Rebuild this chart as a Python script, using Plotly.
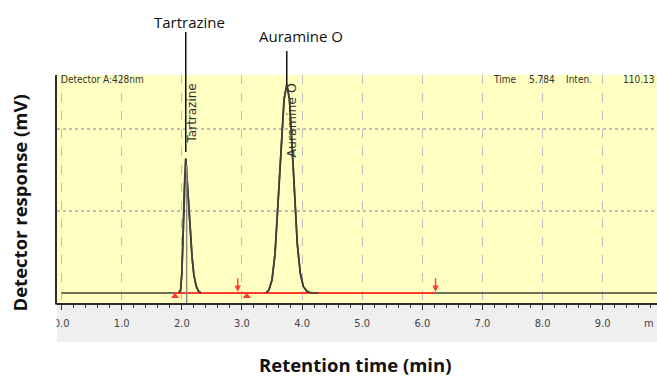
import plotly.graph_objects as go

# ---------------- data ----------------
time_min = [0.00, 1.95, 1.98, 2.00, 2.02, 2.04, 2.065, 2.09, 2.12, 2.14, 2.17, 2.20, 2.24, 2.28, 2.32,
            3.40, 3.45, 3.50, 3.55, 3.60, 3.65, 3.70, 3.745, 3.79, 3.83, 3.87, 3.92, 3.97, 4.02, 4.08,
            4.15, 4.27, 9.95]
response_mV = [0, 0, 2, 12, 35, 64, 82, 68, 48, 38, 22, 11, 4, 1, 0,
               0, 2, 8, 24, 55, 90, 118, 127, 118, 92, 60, 30, 12, 4, 1,
               0, 0, 0]

peak_names = ["Tartrazine", "Auramine O"]
peak_times = [2.065, 3.745]
peak_windows = [(1.95, 2.32), (3.40, 4.27)]

baseline_times = [1.88, 6.22]          # red integration baseline
baseline_start_marks = [1.887, 3.08]   # red up-triangles
baseline_end_marks = [2.93, 6.22]      # red down-arrows
cursor_time = [2.08]

x_tick_vals = [0, 1, 2, 3, 4, 5, 6, 7, 8, 9]
x_tick_text = ["0.0", "1.0", "2.0", "3.0", "4.0", "5.0", "6.0", "7.0", "8.0", "9.0"]
y_grid_vals = [50, 100]

# ---------------- layout helpers ----------------
OFF = 0   # body margin removed in the page (see post_script)
W, H = 657 - OFF, 376 - OFF
L, R, T, B = 57 - OFF, 0, 75 - OFF, 73
PW, PH = W - L - R, H - T - B


def px_x(px):  # window pixel -> paper fraction
    return (px - OFF - L) / PW


def px_y(py):
    return (H - B - (py - OFF)) / PH


NARROW = "Liberation Sans Narrow, DejaVu Sans Condensed, Arial Narrow, sans-serif"
TRACE_COL = "#404035"
RED = "#ff3a2a"

fig = go.Figure()

fig.add_trace(go.Scatter(x=time_min, y=response_mV, mode="lines",
                         line=dict(color=TRACE_COL, width=1.7), hoverinfo="skip"))
fig.add_trace(go.Scatter(x=baseline_times, y=[0, 0], mode="lines",
                         line=dict(color=RED, width=2), hoverinfo="skip"))
for lo, hi in peak_windows:
    xs = [t for t in time_min if lo <= t <= hi]
    ys = [v for t, v in zip(time_min, response_mV) if lo <= t <= hi]
    fig.add_trace(go.Scatter(x=xs, y=ys, mode="lines",
                             line=dict(color=TRACE_COL, width=1.7), hoverinfo="skip"))
fig.add_trace(go.Scatter(x=baseline_start_marks, y=[-2.0] * len(baseline_start_marks), mode="markers",
                         marker=dict(symbol="triangle-up", size=7, color=RED), hoverinfo="skip"))

fig.update_layout(
    width=W, height=H,
    margin=dict(l=L, r=R, t=T, b=B),
    paper_bgcolor="white",
    plot_bgcolor="#ffffc2",
    showlegend=False,
    hovermode=False,
    xaxis=dict(range=[-0.0765, 9.903], tickvals=x_tick_vals, ticktext=x_tick_text,
               showline=True, linecolor="#2b2b2b", linewidth=2,
               ticks="outside", ticklen=5, tickcolor="#333", tickwidth=1,
               minor=dict(dtick=0.2, ticks="outside", ticklen=3, tickcolor="#333", showgrid=False),
               showgrid=True, gridcolor="#bdbdbd", griddash="dash", gridwidth=1,
               zeroline=False, ticklabelstandoff=4,
               tickfont=dict(family=NARROW, size=11, color="#444")),
    yaxis=dict(range=[-6.1, 132.9], tickvals=y_grid_vals, showticklabels=False, ticks="",
               showline=True, linecolor="#2b2b2b", linewidth=2,
               showgrid=True, gridcolor="#bdbdbd", griddash="dot", gridwidth=1.5,
               zeroline=False),
)

shapes = []
shapes.append(dict(type="rect", xref="paper", yref="paper", x0=0, x1=1, y0=px_y(342), y1=0,
                   fillcolor="#efefef", line=dict(width=0), layer="below"))
shapes.append(dict(type="rect", xref="paper", yref="paper", x0=px_x(0), x1=px_x(56.5), y0=px_y(350),
                   y1=px_y(304.5), fillcolor="white", line=dict(width=0), layer="above"))
shapes.append(dict(type="line", xref="x", yref="y", x0=cursor_time[0], x1=cursor_time[0],
                   y0=-6.1, y1=78, line=dict(color="#8a8a8a", width=1.5), layer="above"))
leader_tops = [32, 51]
leader_bottoms = [152, 85]
for t, top, bot in zip(peak_times, leader_tops, leader_bottoms):
    shapes.append(dict(type="line", xref="x", yref="paper", x0=t, x1=t,
                       y0=px_y(bot), y1=px_y(top), line=dict(color="#111", width=1.5), layer="above"))
fig.update_layout(shapes=shapes)

ann = []
for t in baseline_end_marks:
    ann.append(dict(x=t, y=0.8, xref="x", yref="y", text="", showarrow=True, arrowhead=2,
                    arrowsize=0.9, arrowwidth=1.4, arrowcolor=RED, ax=0, ay=-15))
ann.append(dict(x=px_x(189.5), y=px_y(22), xref="paper", yref="paper", text=peak_names[0],
                showarrow=False, font=dict(family="Open Sans, sans-serif", size=15, color="#111"),
                xanchor="center", yanchor="middle"))
ann.append(dict(x=px_x(300.5), y=px_y(36), xref="paper", yref="paper", text=peak_names[1],
                showarrow=False, font=dict(family="Open Sans, sans-serif", size=15, color="#111"),
                xanchor="center", yanchor="middle"))
ann.append(dict(x=px_x(191.5), y=px_y(114), xref="paper", yref="paper", text=peak_names[0],
                textangle=-90, showarrow=False, font=dict(family="DejaVu Sans, sans-serif", size=12, color="#333"),
                xanchor="center", yanchor="middle"))
ann.append(dict(x=px_x(291.5), y=px_y(120), xref="paper", yref="paper", text=peak_names[1],
                textangle=-90, showarrow=False, font=dict(family="DejaVu Sans, sans-serif", size=12.5, color="#333"),
                xanchor="center", yanchor="middle"))
hdr = dict(xref="paper", yref="paper", showarrow=False, yanchor="middle",
           font=dict(family=NARROW, size=10, color="#333"))
ann.append(dict(hdr, x=px_x(59), y=px_y(80), text="Detector A:428nm", xanchor="left"))
ann.append(dict(hdr, x=px_x(491), y=px_y(80), text="Time", xanchor="left"))
ann.append(dict(hdr, x=px_x(527), y=px_y(80), text="5.784", xanchor="left"))
ann.append(dict(hdr, x=px_x(564), y=px_y(80), text="Inten.", xanchor="left"))
ann.append(dict(hdr, x=px_x(656), y=px_y(80), text="110.13", xanchor="right"))
ann.append(dict(x=px_x(656), y=px_y(323), xref="paper", yref="paper", text="m", showarrow=False,
                xanchor="right", yanchor="middle", font=dict(family=NARROW, size=11, color="#444")))
ann.append(dict(x=px_x(355), y=px_y(364), xref="paper", yref="paper", text="<b>Retention time (min)</b>",
                showarrow=False, xanchor="center", yanchor="middle",
                font=dict(family="Open Sans, sans-serif", size=18.5, color="#111")))
ann.append(dict(x=px_x(18.5), y=px_y(203), xref="paper", yref="paper", text="<b>Detector response (mV)</b>",
                textangle=-90, showarrow=False, xanchor="center", yanchor="middle",
                font=dict(family="Open Sans, sans-serif", size=18.5, color="#111")))
fig.update_layout(annotations=ann)

fig.write_html("out.html",
               config={"displayModeBar": False, "staticPlot": True},
               post_script="document.body.style.margin='0';"
                           "document.documentElement.style.overflow='hidden';")
